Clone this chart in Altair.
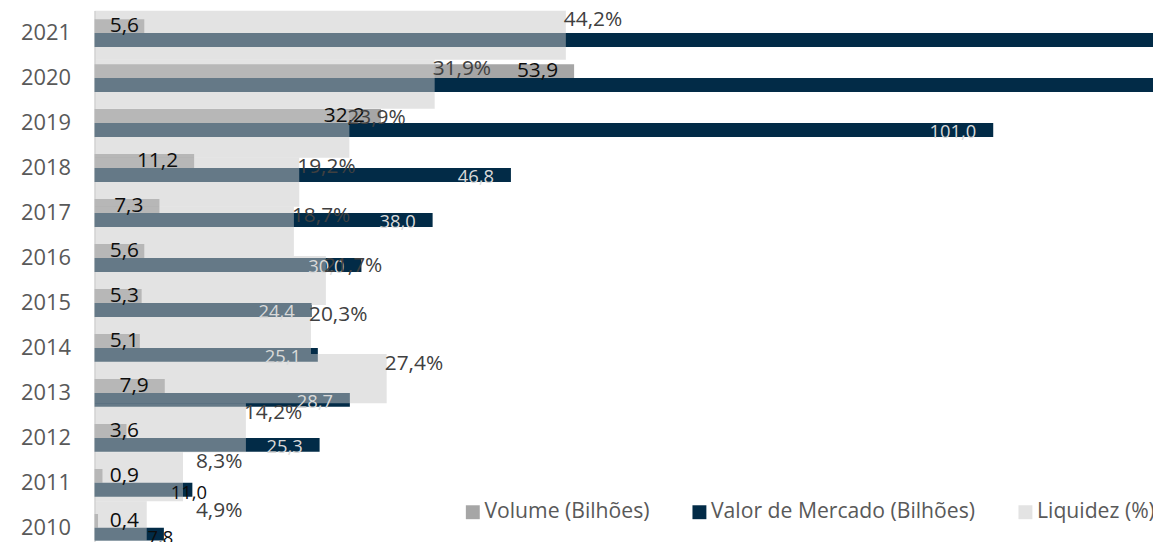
import altair as alt
import pandas as pd

# ---- data ----
years = [2021, 2020, 2019, 2018, 2017, 2016, 2015, 2014, 2013, 2012, 2011, 2010]
volume = [5.6, 53.9, 32.2, 11.2, 7.3, 5.6, 5.3, 5.1, 7.9, 3.6, 0.9, 0.4]
valor = [130.0, 127.0, 101.0, 46.8, 38.0, 30.0, 24.4, 25.1, 28.7, 25.3, 11.0, 7.8]
liq_years = [2020, 2019, 2018, 2017, 2016, 2015, 2014, 2013, 2012, 2011, 2010]
liquidez = [44.2, 31.9, 23.9, 19.2, 18.7, 21.7, 20.3, 27.4, 14.2, 8.3, 4.9]

S_VOL = "Volume (Bilhões)"
S_VAL = "Valor de Mercado (Bilhões)"
S_LIQ = "Liquidez (%)"
series = [S_VOL, S_VAL, S_LIQ]
legend_colors = ["#a6a6a6", "#022b47", "#e3e3e3"]
liq_fill = "#c8c8c8"

prim = pd.DataFrame({
    "ano": years * 2,
    "serie": [S_VOL] * len(years) + [S_VAL] * len(years),
    "v": volume + valor,
})
liq = pd.DataFrame({"ano_liq": liq_years, "serie": [S_LIQ] * len(liq_years), "v": liquidez})

W, H = 1065, 533
x_prim = alt.Scale(domain=[0, W / 8.953], nice=False, zero=True)
x_liq = alt.Scale(domain=[0, W / 10.73], nice=False, zero=True)
y_prim = alt.Scale(domain=years, range=[0, 543], paddingInner=0.38, paddingOuter=0.19)
y_liq = alt.Scale(domain=liq_years, range=[0, 543], paddingInner=0, paddingOuter=0)
yoff = alt.Scale(domain=[S_VOL, S_VAL], paddingInner=0, paddingOuter=0)

leg = alt.Legend(
    title=None, orient="none", legendX=370, legendY=494, direction="horizontal",
    symbolType="square", symbolSize=196, symbolStrokeWidth=0,
    labelFontSize=21.3, labelColor="#595959", labelOffset=1, labelLimit=400,
    columnPadding=39, padding=0,
)
color_enc = alt.Color("serie:N", scale=alt.Scale(domain=series, range=legend_colors), legend=leg)

lab_expr = "replace(format(datum.v, '.1f'), '.', ',')"

bars_p = alt.Chart(prim).mark_bar(clip=True).encode(
    x=alt.X("v:Q", scale=x_prim, axis=None),
    y=alt.Y("ano:O", scale=y_prim, axis=alt.Axis(
        title=None, ticks=False, labelFontSize=22, labelColor="#595959",
        labelPadding=24, domainColor="#d9d9d9", domainWidth=1.5, grid=False)),
    yOffset=alt.YOffset("serie:N", scale=yoff),
    color=color_enc,
)

bars_l = alt.Chart(liq).mark_bar(clip=True, opacity=0.5, color=liq_fill).encode(
    x=alt.X("v:Q", scale=x_liq, axis=None),
    y=alt.Y("ano_liq:O", scale=y_liq, axis=None),
)

vol_lab = alt.Chart(prim).transform_filter(
    alt.datum.serie == S_VOL
).transform_calculate(
    lab=lab_expr, xp="max(datum.v - 1.8, 5.0)"
).mark_text(align="right", baseline="middle", fontSize=21, color="#0d0d0d", dy=7).encode(
    x=alt.X("xp:Q", scale=x_prim, axis=None),
    y=alt.Y("ano:O", scale=y_prim, axis=None),
    yOffset=alt.YOffset("serie:N", scale=yoff),
    text="lab:N",
)

val_big = alt.Chart(prim).transform_filter(
    (alt.datum.serie == S_VAL) & (alt.datum.v >= 15)
).transform_calculate(
    lab=lab_expr, xp="datum.v - 1.9"
).mark_text(align="right", baseline="middle", fontSize=18.5, color="#d9d9d9", dy=-4.5, clip=True).encode(
    x=alt.X("xp:Q", scale=x_prim, axis=None),
    y=alt.Y("ano:O", scale=y_prim, axis=None),
    yOffset=alt.YOffset("serie:N", scale=yoff),
    text="lab:N",
)

val_small = alt.Chart(prim).transform_filter(
    (alt.datum.serie == S_VAL) & (alt.datum.v < 15)
).transform_calculate(
    lab=lab_expr, xp="datum.v - 0.4"
).mark_text(align="center", baseline="middle", fontSize=18.5, color="#0d0d0d", dy=-4).encode(
    x=alt.X("xp:Q", scale=x_prim, axis=None),
    y=alt.Y("ano:O", scale=y_prim, axis=None),
    yOffset=alt.YOffset("serie:N", scale=yoff),
    text="lab:N",
)

liq_lab = alt.Chart(liq).transform_calculate(
    lab=lab_expr + " + '%'", xp="max(datum.v, 9.7)"
).mark_text(align="left", baseline="middle", fontSize=21, color="#404040", dx=-2, dy=-15).encode(
    x=alt.X("xp:Q", scale=x_liq, axis=None),
    y=alt.Y("ano_liq:O", scale=y_liq, axis=None),
    text="lab:N",
)

chart = alt.layer(
    bars_p, bars_l, vol_lab, val_big, val_small, liq_lab
).resolve_scale(
    x="independent", y="independent", yOffset="independent"
).properties(
    width=W, height=H,
    autosize=alt.AutoSizeParams(type="none"),
    padding={"left": 87, "top": 1, "right": 0, "bottom": 0},
).configure(
    font="Open Sans"
).configure_view(stroke=None)

chart.save("out.html", embed_options={"renderer": "svg", "actions": False})
